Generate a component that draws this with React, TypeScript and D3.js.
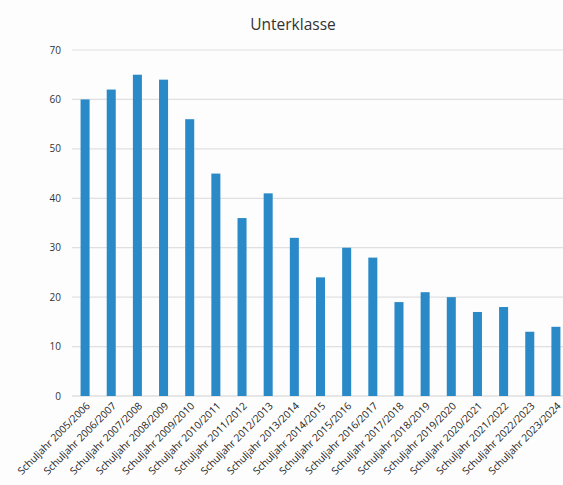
import React from "react";
import * as d3 from "d3";

const categories: string[] = [
  "Schuljahr 2005/2006",
  "Schuljahr 2006/2007",
  "Schuljahr 2007/2008",
  "Schuljahr 2008/2009",
  "Schuljahr 2009/2010",
  "Schuljahr 2010/2011",
  "Schuljahr 2011/2012",
  "Schuljahr 2012/2013",
  "Schuljahr 2013/2014",
  "Schuljahr 2014/2015",
  "Schuljahr 2015/2016",
  "Schuljahr 2016/2017",
  "Schuljahr 2017/2018",
  "Schuljahr 2018/2019",
  "Schuljahr 2019/2020",
  "Schuljahr 2020/2021",
  "Schuljahr 2021/2022",
  "Schuljahr 2022/2023",
  "Schuljahr 2023/2024",
];

const values: number[] = [60, 62, 65, 64, 56, 45, 36, 41, 32, 24, 30, 28, 19, 21, 20, 17, 18, 13, 14];

const yTicks: number[] = [0, 10, 20, 30, 40, 50, 60, 70];

const title = "Unterklasse";

const W = 563;
const H = 485;
const FONT = "'Open Sans', 'Noto Sans', sans-serif";

export default function App() {
  const x = d3
    .scaleBand<string>()
    .domain(categories)
    .range([72, 569])
    .paddingInner(0.655)
    .paddingOuter(0.3275);
  const y = d3.scaleLinear().domain([0, 70]).range([396, 50]);

  return (
    <svg
      width={W}
      height={H}
      style={{ position: "absolute", left: 0, top: 0, background: "#ffffff" }}
    >
      <rect x={0} y={0} width={W} height={H} fill="#fdfdfd" />
      <text
        x={293}
        y={30}
        textAnchor="middle"
        fontFamily={FONT}
        fontSize={15.5}
        fill="#333"
      >
        {title}
      </text>

      {yTicks.map((t) => (
        <g key={t}>
          <line
            x1={72}
            x2={W}
            y1={y(t)}
            y2={y(t)}
            stroke={t === 0 ? "#cfcfcf" : "#e0e0e0"}
            strokeWidth={1.2}
          />
          <text
            x={61}
            y={y(t)}
            dy="0.35em"
            textAnchor="end"
            fontFamily={FONT}
            fontSize={10}
            fill="#333"
          >
            {t}
          </text>
        </g>
      ))}

      {categories.map((c, i) => (
        <rect
          key={c}
          x={x(c)!}
          y={y(values[i])}
          width={x.bandwidth()}
          height={y(0) - y(values[i])}
          fill="#2a8ac8"
        />
      ))}

      {categories.map((c) => {
        const cx = x(c)! + x.bandwidth() / 2 + 3;
        const cy = 404;
        return (
          <text
            key={c}
            x={cx}
            y={cy}
            textAnchor="end"
            transform={`rotate(-45 ${cx} ${cy})`}
            fontFamily={FONT}
            fontSize={10.2}
            fill="#222"
            dy="0.35em"
          >
            {c}
          </text>
        );
      })}
    </svg>
  );
}
